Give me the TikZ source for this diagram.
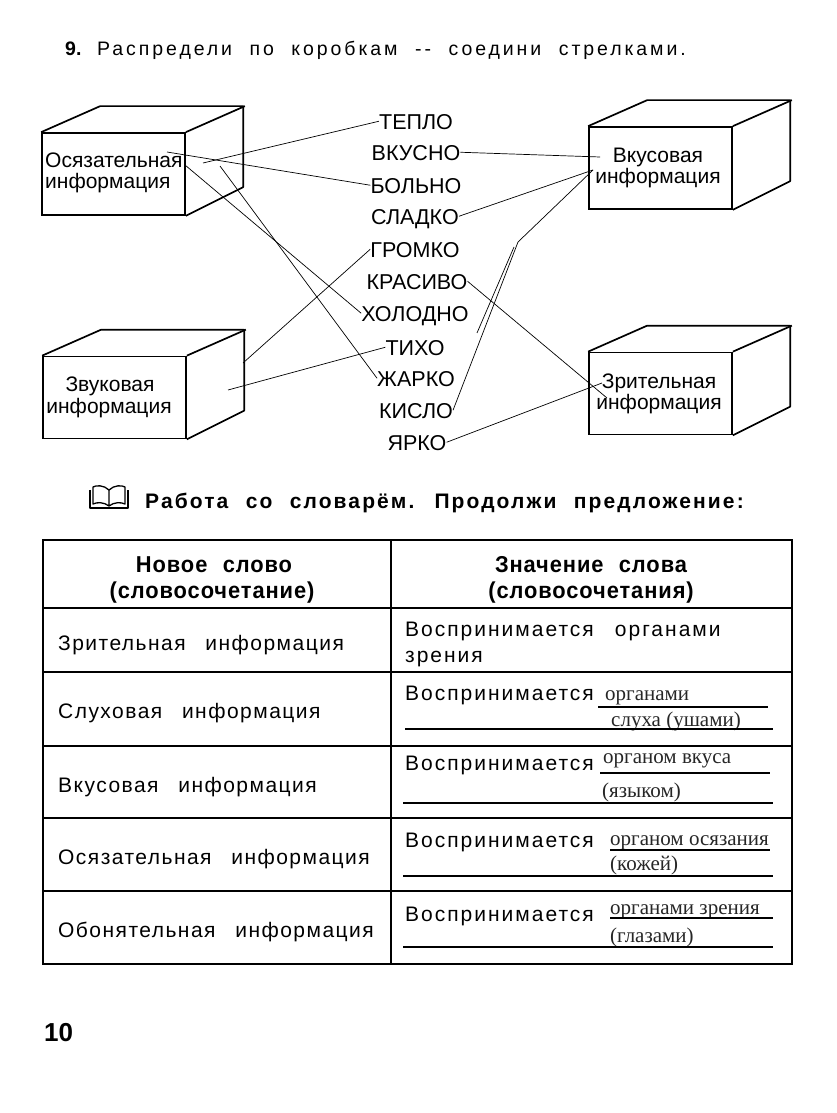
\documentclass[tikz,border=0pt]{standalone}
\usepackage{fontspec}
\setmainfont{Liberation Sans}
\newfontfamily\titlefont[LetterSpace=15,WordSpace=2.1]{Liberation Sans}
\newfontfamily\tabfont[LetterSpace=7,WordSpace=2.7]{Liberation Sans}
\newfontfamily\tabfontR[LetterSpace=9.5,WordSpace=2.7]{Liberation Sans}
\newfontfamily\secfont[LetterSpace=10,WordSpace=2.2]{Liberation Sans}
\newfontfamily\headfont[FakeStretch=0.95,LetterSpace=4,WordSpace=2.2]{Liberation Sans}
\newfontfamily\handfont{Liberation Serif}
\begin{document}
\begin{tikzpicture}[x=1pt,y=-1pt,
  cubeline/.style={line width=1.7pt,line join=round},
  front/.style={draw,line width=1.7pt,minimum width=143pt,minimum height=82pt,inner sep=0pt},
  lbl/.style={font=\fontsize{21}{22}\selectfont,inner sep=0pt},
  word/.style={font=\fontsize{21.5}{22}\selectfont,inner sep=0pt,text height=15.5pt,text depth=0pt},
  conn/.style={line width=0.7pt},
  grid/.style={line width=1.5pt},
  tabtext/.style={font=\tabfont\fontsize{21}{22}\selectfont,inner sep=0pt,anchor=base west},
  tabtextR/.style={font=\tabfontR\fontsize{21}{22}\selectfont,inner sep=0pt,anchor=base west},
  hd/.style={font=\headfont\bfseries\fontsize{23}{24}\selectfont,inner sep=0pt,anchor=base},
  hand/.style={font=\handfont\fontsize{21}{22}\selectfont,inner sep=0pt,anchor=base west,text=black!85},
  uline/.style={line width=1.1pt}]
\useasboundingbox (0,0) rectangle (836,1113);

% title
\node[font=\bfseries\fontsize{19.5}{20}\selectfont,inner sep=0pt,anchor=base west] (num) at (65,56) {9.};
\node[font=\titlefont\fontsize{19.5}{20}\selectfont,inner sep=0pt,anchor=base west] (title) at (97,56) {Распредели по коробкам -{}- соедини стрелками.};

% cubes
\newcommand{\cubetop}[1]{%
  \draw[cubeline] (#1.north west) -- ++(59,-26) -- ++(143,0) -- ++(0,81) -- (#1.south east);
  \draw[cubeline] (#1.north east) -- ++(59,-26);}
\node[front] (bOsz) at (113.5,174) {};
\cubetop{bOsz}
\node[front] (bVkus) at (660.5,168) {};
\cubetop{bVkus}
\node[front] (bZvuk) at (114.5,397.5) {};
\cubetop{bZvuk}
\node[front] (bZrit) at (660.5,393.5) {};
\cubetop{bZrit}

\node[lbl,anchor=base west] (lOszA) at (45,167) {Осязательная};
\node[lbl,anchor=base west] (lOszB) at (45,188) {информация};
\node[lbl,anchor=base] (lVkusA) at (658,162) {Вкусовая};
\node[lbl,anchor=base] (lVkusB) at (658,183) {информация};
\node[lbl,anchor=base] (lZvukA) at (110,391) {Звуковая};
\node[lbl,anchor=base] (lZvukB) at (109,413) {информация};
\node[lbl,anchor=base] (lZritA) at (659,388) {Зрительная};
\node[lbl,anchor=base] (lZritB) at (659,409) {информация};

% words
\node[word,anchor=base] (w1) at (416,129) {ТЕПЛО};
\node[word,anchor=base] (w2) at (416,160) {ВКУСНО};
\node[word,anchor=base] (w3) at (416,193) {БОЛЬНО};
\node[word,anchor=base] (w4) at (415,224) {СЛАДКО};
\node[word,anchor=base] (w5) at (415,257) {ГРОМКО};
\node[word,anchor=base] (w6) at (417,289) {КРАСИВО};
\node[word,anchor=base] (w7) at (415,321) {ХОЛОДНО};
\node[word,anchor=base] (w8) at (415,355) {ТИХО};
\node[word,anchor=base] (w9) at (416,386) {ЖАРКО};
\node[word,anchor=base] (w10) at (416,418) {КИСЛО};
\node[word,anchor=base] (w11) at (417,450) {ЯРКО};

% connector end points inside the boxes
\coordinate (cTeplo) at (203,163);
\coordinate (cBolno) at (167,152);
\coordinate (cHolod) at (185,165);
\coordinate (cZhark) at (220,166);
\coordinate (cVkus) at (600,157);
\coordinate (cSlad) at (593,170);
\coordinate (cGrom) at (243,363);
\coordinate (cTiho) at (228,390);
\coordinate (cKras) at (607,398);
\coordinate (cYark) at (602,383);
\coordinate (kink) at (518,242);
\coordinate (sA) at (477,333);
\coordinate (sB) at (514,247);

\draw[conn] (w1.west) -- (cTeplo);
\draw[conn] (w3.west) -- (cBolno);
\draw[conn] (w7.west) -- (cHolod);
\draw[conn] (w9.west) -- (cZhark);
\draw[conn] (w2.east) -- (cVkus);
\draw[conn] (w4.east) -- (cSlad);
\draw[conn] (w10.east) -- (kink) -- (cSlad);
\draw[conn] (sA) -- (sB);
\draw[conn] (w5.west) -- (cGrom);
\draw[conn] (w8.west) -- (cTiho);
\draw[conn] (w6.east) -- (cKras);
\draw[conn] (w11.east) -- (cYark);

% book icon and heading
\draw[line width=1.3pt,line join=round] (109,490) .. controls (104,485) and (96,485) .. (93,487) -- (93,504)
  .. controls (97,502) and (104,502) .. (109,506) .. controls (114,502) and (121,502) .. (125,504)
  -- (125,487) .. controls (122,485) and (114,485) .. (109,490) -- (109,506);
\draw[line width=1.3pt,line join=round] (90,490) -- (90,508) -- (128,508) -- (128,490);
\node[font=\secfont\bfseries\fontsize{21}{22}\selectfont,inner sep=0pt,anchor=base west] (heading) at (145,508) {Работа со словарём. Продолжи предложение:};

% table
\draw[grid] (43,540) rectangle (792,964);
\draw[grid] (391,540) -- (391,964);
\foreach \yy in {608,672,746,818,891} \draw[grid] (43,\yy) -- (792,\yy);

\node[hd] (h1a) at (214,572) {Новое слово};
\node[hd] (h1b) at (212,598) {(словосочетание)};
\node[hd] (h2a) at (591,572) {Значение слова};
\node[hd] (h2b) at (591,598) {(словосочетания)};

\node[tabtext] (r1) at (58,650) {Зрительная информация};
\node[tabtext] (r2) at (58,718) {Слуховая информация};
\node[tabtext] (r3) at (58,792) {Вкусовая информация};
\node[tabtext] (r4) at (58,864) {Осязательная информация};
\node[tabtext] (r5) at (58,937) {Обонятельная информация};

\node[tabtextR] (v1) at (405,636) {Воспринимается органами};
\node[tabtextR] (v1b) at (405,662) {зрения};
\node[tabtextR] (v2) at (405,700) {Воспринимается};
\node[tabtextR] (v3) at (405,770) {Воспринимается};
\node[tabtextR] (v4) at (405,847) {Воспринимается};
\node[tabtextR] (v5) at (405,921) {Воспринимается};

\node[hand] (a2a) at (605,700) {органами};
\node[hand] (a2b) at (611,726) {слуха (ушами)};
\node[hand] (a3a) at (603,763) {органом вкуса};
\node[hand] (a3b) at (602,797) {(языком)};
\node[hand] (a4a) at (610,845) {органом осязания};
\node[hand] (a4b) at (610,870) {(кожей)};
\node[hand] (a5a) at (610,914) {органами зрения};
\node[hand] (a5b) at (610,942) {(глазами)};

\draw[uline] (598,707) -- (768,707);
\draw[uline] (405,729) -- (773,729);
\draw[uline] (600,773) -- (770,773);
\draw[uline] (403,803) -- (773,803);
\draw[uline] (610,850) -- (770,850);
\draw[uline] (403,876) -- (773,876);
\draw[uline] (610,918) -- (773,918);
\draw[uline] (403,947) -- (773,947);

% page number
\node[font=\bfseries\fontsize{26}{28}\selectfont,inner sep=0pt,anchor=base west] (page) at (44,1041) {10};
\end{tikzpicture}
\end{document}
